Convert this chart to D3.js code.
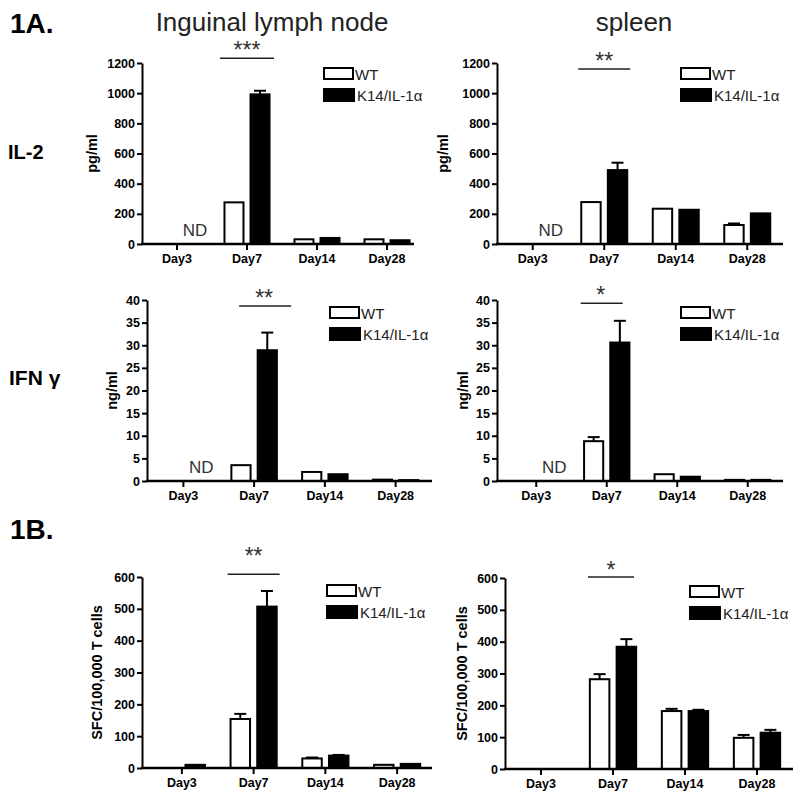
<!DOCTYPE html>
<html>
<head>
<meta charset="utf-8">
<title>IL-2 / IFN-g / SFC</title>
<script src="https://d3js.org/d3.v7.min.js"></script>
<style>
body { margin: 0; background: #fff; }
svg text { font-family: "Liberation Sans", Arial, sans-serif; }
.tick text { font-weight: bold; font-size: 12.5px; fill: #000; }
</style>
</head>
<body>
<div id="chart"></div>
<script>
// categories
const days = ["Day3", "Day7", "Day14", "Day28"];
const groups = ["WT", "K14/IL-1α"];

// IL-2 (pg/ml), Day3 not detected
const il2LnWT = [null, 276, 31, 31];
const il2LnWTErr = [null, 0, 0, 0];
const il2LnTg = [null, 992, 40, 25];
const il2LnTgErr = [null, 24, 0, 0];
const il2SpWT = [null, 278, 234, 126];
const il2SpWTErr = [null, 0, 0, 10];
const il2SpTg = [null, 490, 227, 203];
const il2SpTgErr = [null, 49, 0, 0];

// IFN-gamma (ng/ml)
const ifnLnWT = [null, 3.5, 2.0, 0.3];
const ifnLnWTErr = [null, 0, 0, 0];
const ifnLnTg = [null, 28.9, 1.5, 0.2];
const ifnLnTgErr = [null, 3.9, 0, 0];
const ifnSpWT = [null, 8.8, 1.5, 0.25];
const ifnSpWTErr = [null, 0.9, 0, 0];
const ifnSpTg = [null, 30.6, 0.95, 0.25];
const ifnSpTgErr = [null, 4.8, 0, 0];

// SFC / 100,000 T cells
const sfcLnWT = [0, 154, 30, 10];
const sfcLnWTErr = [0, 16, 3, 0];
const sfcLnTg = [10, 507, 39, 13];
const sfcLnTgErr = [0, 49, 2, 0];
const sfcSpWT = [null, 282, 182, 98];
const sfcSpWTErr = [null, 16, 7, 9];
const sfcSpTg = [null, 384, 182, 114];
const sfcSpTgErr = [null, 24, 4, 9];

// tick values
const il2Ticks = [0, 200, 400, 600, 800, 1000, 1200];
const ifnTicks = [0, 5, 10, 15, 20, 25, 30, 35, 40];
const sfcTicks = [0, 100, 200, 300, 400, 500, 600];

const W = 800, H = 802;
let svg = d3.select("#chart").append("svg")
	.attr("width", W)
	.attr("height", H)
	.style("background", "#fff");

function panel(cfg) {
	const g = svg.append("g");
	const x = d3.scaleBand().domain(days).range(cfg.xr);
	const xi = d3.scaleBand().domain(groups)
		.range([0, x.bandwidth()])
		.paddingInner(0.27)
		.paddingOuter(0.48);
	const y = d3.scaleLinear().domain([0, cfg.ymax]).range([cfg.y0, cfg.y1]);

	const rows = [];
	days.forEach((d, i) => {
		rows.push({day: d, grp: groups[0], v: cfg.wt[i], e: cfg.wtErr[i]});
		rows.push({day: d, grp: groups[1], v: cfg.tg[i], e: cfg.tgErr[i]});
	});
	const shown = rows.filter(r => r.v !== null);

	// bars
	g.selectAll("rect.bar")
		.data(shown)
		.enter().append("rect")
		.attr("class", "bar")
		.attr("x", d => x(d.day) + xi(d.grp))
		.attr("width", xi.bandwidth())
		.attr("y", d => y(d.v))
		.attr("height", d => y(0) - y(d.v))
		.attr("fill", d => d.grp === groups[0] ? "#fff" : "#000")
		.attr("stroke", "#000")
		.attr("stroke-width", 2);

	// error bars (upper only)
	const errs = shown.filter(r => r.e > 0);
	g.selectAll("line.err")
		.data(errs)
		.enter().append("line")
		.attr("class", "err")
		.attr("x1", d => x(d.day) + xi(d.grp) + xi.bandwidth() / 2)
		.attr("x2", d => x(d.day) + xi(d.grp) + xi.bandwidth() / 2)
		.attr("y1", d => y(d.v))
		.attr("y2", d => y(d.v + d.e))
		.attr("stroke", "#000")
		.attr("stroke-width", 2);
	g.selectAll("line.cap")
		.data(errs)
		.enter().append("line")
		.attr("class", "cap")
		.attr("x1", d => x(d.day) + xi(d.grp) + xi.bandwidth() / 2 - 6)
		.attr("x2", d => x(d.day) + xi(d.grp) + xi.bandwidth() / 2 + 6)
		.attr("y1", d => y(d.v + d.e))
		.attr("y2", d => y(d.v + d.e))
		.attr("stroke", "#000")
		.attr("stroke-width", 2);

	// y axis
	const ya = g.append("g")
		.attr("transform", "translate(" + cfg.x0 + ",0)")
		.call(d3.axisLeft(y).tickValues(cfg.ticks).tickFormat(d3.format("d"))
			.tickSize(5).tickSizeOuter(0).tickPadding(2));
	ya.select(".domain").attr("stroke-width", 2);
	ya.selectAll(".tick line").attr("stroke-width", 2);

	// x axis
	const xa = g.append("g")
		.attr("transform", "translate(0," + cfg.y0 + ")")
		.call(d3.axisBottom(x).tickSize(6).tickSizeOuter(0).tickPadding(4));
	xa.select(".domain")
		.attr("d", "M" + (cfg.x0 - 1) + ",0H" + cfg.xEnd)
		.attr("stroke-width", 2.5);
	xa.selectAll(".tick line").attr("stroke-width", 2);
	xa.selectAll(".tick text").style("font-size", "12.5px");

	// y label
	g.append("text")
		.attr("transform", "translate(" + cfg.ylabX + "," + ((cfg.y0 + cfg.y1) / 2) + ") rotate(-90)")
		.attr("text-anchor", "middle")
		.style("font-weight", "bold")
		.style("font-size", "14.5px")
		.text(cfg.ylab);

	// not detected
	if (cfg.nd) {
		g.append("text")
			.attr("x", x(days[0]) + x.bandwidth() / 2 + 18)
			.attr("y", cfg.y0 - 8)
			.attr("text-anchor", "middle")
			.style("font-size", "17px")
			.attr("fill", "#333")
			.text("ND");
	}

	// significance
	const cx = x(days[1]) + x.bandwidth() / 2 + cfg.sigDx;
	const sy = y(cfg.sigVal);
	g.append("line")
		.attr("x1", cx - cfg.sigHalf)
		.attr("x2", cx + cfg.sigHalf)
		.attr("y1", sy)
		.attr("y2", sy)
		.attr("stroke", "#222")
		.attr("stroke-width", 1.5);
	g.append("text")
		.attr("x", x(days[1]) + x.bandwidth() / 2 + cfg.starDx)
		.attr("y", sy + cfg.starDy)
		.attr("text-anchor", "middle")
		.style("font-size", "23px")
		.attr("fill", "#333")
		.text(cfg.stars);

	// legend
	const lg = g.append("g").attr("transform", "translate(" + cfg.legend[0] + "," + cfg.legend[1] + ")");
	lg.append("rect").attr("x", 0).attr("y", 0).attr("width", 29).attr("height", 11)
		.attr("fill", "#fff").attr("stroke", "#000").attr("stroke-width", 2);
	lg.append("rect").attr("x", -1).attr("y", 20).attr("width", 32).attr("height", 14)
		.attr("fill", "#000");
	lg.append("text").attr("x", 31).attr("y", 12).style("font-size", "15px").attr("fill", "#222").text(groups[0]);
	lg.append("text").attr("x", 33).attr("y", 33).style("font-size", "15px").attr("fill", "#222").text(groups[1]);
}

// headings
svg.append("text").attr("x", 10).attr("y", 33).style("font-size", "28px").style("font-weight", "bold").text("1A.");
svg.append("text").attr("x", 10).attr("y", 539).style("font-size", "28px").style("font-weight", "bold").text("1B.");
svg.append("text").attr("x", 272).attr("y", 31).attr("text-anchor", "middle").style("font-size", "26px").attr("fill", "#222").text("Inguinal lymph node");
svg.append("text").attr("x", 634).attr("y", 31).attr("text-anchor", "middle").style("font-size", "26px").attr("fill", "#222").text("spleen");
svg.append("text").attr("x", 8).attr("y", 159).style("font-size", "20px").style("font-weight", "bold").text("IL-2");
svg.append("text").attr("x", 9).attr("y", 385).style("font-size", "21px").style("font-weight", "bold").text("IFN γ");

panel({x0: 142, xr: [142, 422], xEnd: 414, y0: 244, y1: 63, ymax: 1200, ticks: il2Ticks,
	wt: il2LnWT, wtErr: il2LnWTErr, tg: il2LnTg, tgErr: il2LnTgErr, ylab: "pg/ml", ylabX: 97,
	nd: true, stars: "***", sigVal: 1232, sigDx: 0, sigHalf: 27, starDx: 0, starDy: 0, legend: [324, 68]});
panel({x0: 497, xr: [497, 783], xEnd: 783, y0: 244, y1: 63, ymax: 1200, ticks: il2Ticks,
	wt: il2SpWT, wtErr: il2SpWTErr, tg: il2SpTg, tgErr: il2SpTgErr, ylab: "pg/ml", ylabX: 448,
	nd: true, stars: "**", sigVal: 1160, sigDx: 0, sigHalf: 26, starDx: 0, starDy: 0, legend: [681, 68]});
panel({x0: 147, xr: [148, 431], xEnd: 432, y0: 481, y1: 300, ymax: 40, ticks: ifnTicks,
	wt: ifnLnWT, wtErr: ifnLnWTErr, tg: ifnLnTg, tgErr: ifnLnTgErr, ylab: "ng/ml", ylabX: 117,
	nd: true, stars: "**", sigVal: 38.7, sigDx: 11, sigHalf: 26, starDx: 10, starDy: 0, legend: [330, 307]});
panel({x0: 497, xr: [501, 783], xEnd: 783, y0: 481, y1: 300, ymax: 40, ticks: ifnTicks,
	wt: ifnSpWT, wtErr: ifnSpWTErr, tg: ifnSpTg, tgErr: ifnSpTgErr, ylab: "ng/ml", ylabX: 468,
	nd: true, stars: "*", sigVal: 39.3, sigDx: -5, sigHalf: 21, starDx: -6, starDy: 0, legend: [681, 307]});
panel({x0: 142, xr: [146, 433], xEnd: 432, y0: 768, y1: 577, ymax: 600, ticks: sfcTicks,
	wt: sfcLnWT, wtErr: sfcLnWTErr, tg: sfcLnTg, tgErr: sfcLnTgErr, ylab: "SFC/100,000 T cells", ylabX: 102,
	nd: false, stars: "**", sigVal: 609, sigDx: 0, sigHalf: 26, starDx: 0, starDy: -10, legend: [327, 585]});
panel({x0: 505, xr: [505, 793], xEnd: 793, y0: 769, y1: 578, ymax: 600, ticks: sfcTicks,
	wt: sfcSpWT, wtErr: sfcSpWTErr, tg: sfcSpTg, tgErr: sfcSpTgErr, ylab: "SFC/100,000 T cells", ylabX: 467,
	nd: false, stars: "*", sigVal: 603, sigDx: -2, sigHalf: 23, starDx: -2, starDy: 1, legend: [690, 586]});
</script>
</body>
</html>
